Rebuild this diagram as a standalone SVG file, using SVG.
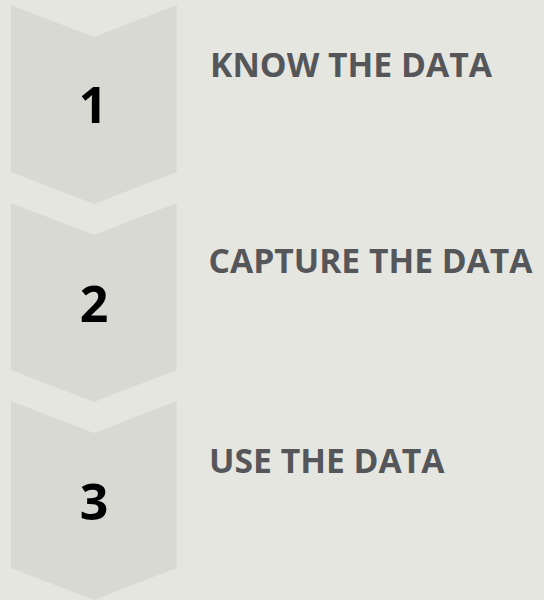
<svg xmlns="http://www.w3.org/2000/svg" width="544" height="600" viewBox="0 0 544 600">
  <style>
    .chev { fill: #D9D9D4; }
    .num { font-family: "Open Sans", "Liberation Sans", sans-serif; font-weight: 700; font-size: 50px; fill: #000000; text-anchor: middle; }
    .label { font-family: "Open Sans", "Liberation Sans", sans-serif; font-weight: 700; font-size: 34px; fill: #55565A; }
  </style>
  <defs>
    <!-- downward chevron, top-left at origin -->
    <path id="chevron" d="M0 0 L83 32 L165.7 0 L165.7 167 L83 199 L0 167 Z"/>
  </defs>
  <rect width="544" height="600" fill="#E6E6E1"/>

  <g id="step1">
    <use href="#chevron" class="chev" x="11" y="5"/>
    <text class="num" x="93" y="123.3">1</text>
    <text class="label" x="210" y="76.7" textLength="282" lengthAdjust="spacingAndGlyphs">KNOW THE DATA</text>
  </g>

  <g id="step2">
    <use href="#chevron" class="chev" x="11" y="203"/>
    <text class="num" x="94" y="321.7">2</text>
    <text class="label" x="208.5" y="273.3" textLength="324" lengthAdjust="spacingAndGlyphs">CAPTURE THE DATA</text>
  </g>

  <g id="step3">
    <use href="#chevron" class="chev" x="11" y="401"/>
    <text class="num" x="94" y="520">3</text>
    <text class="label" x="209" y="472.7" textLength="235.5" lengthAdjust="spacingAndGlyphs">USE THE DATA</text>
  </g>

  <g id="connectors"/>
</svg>
